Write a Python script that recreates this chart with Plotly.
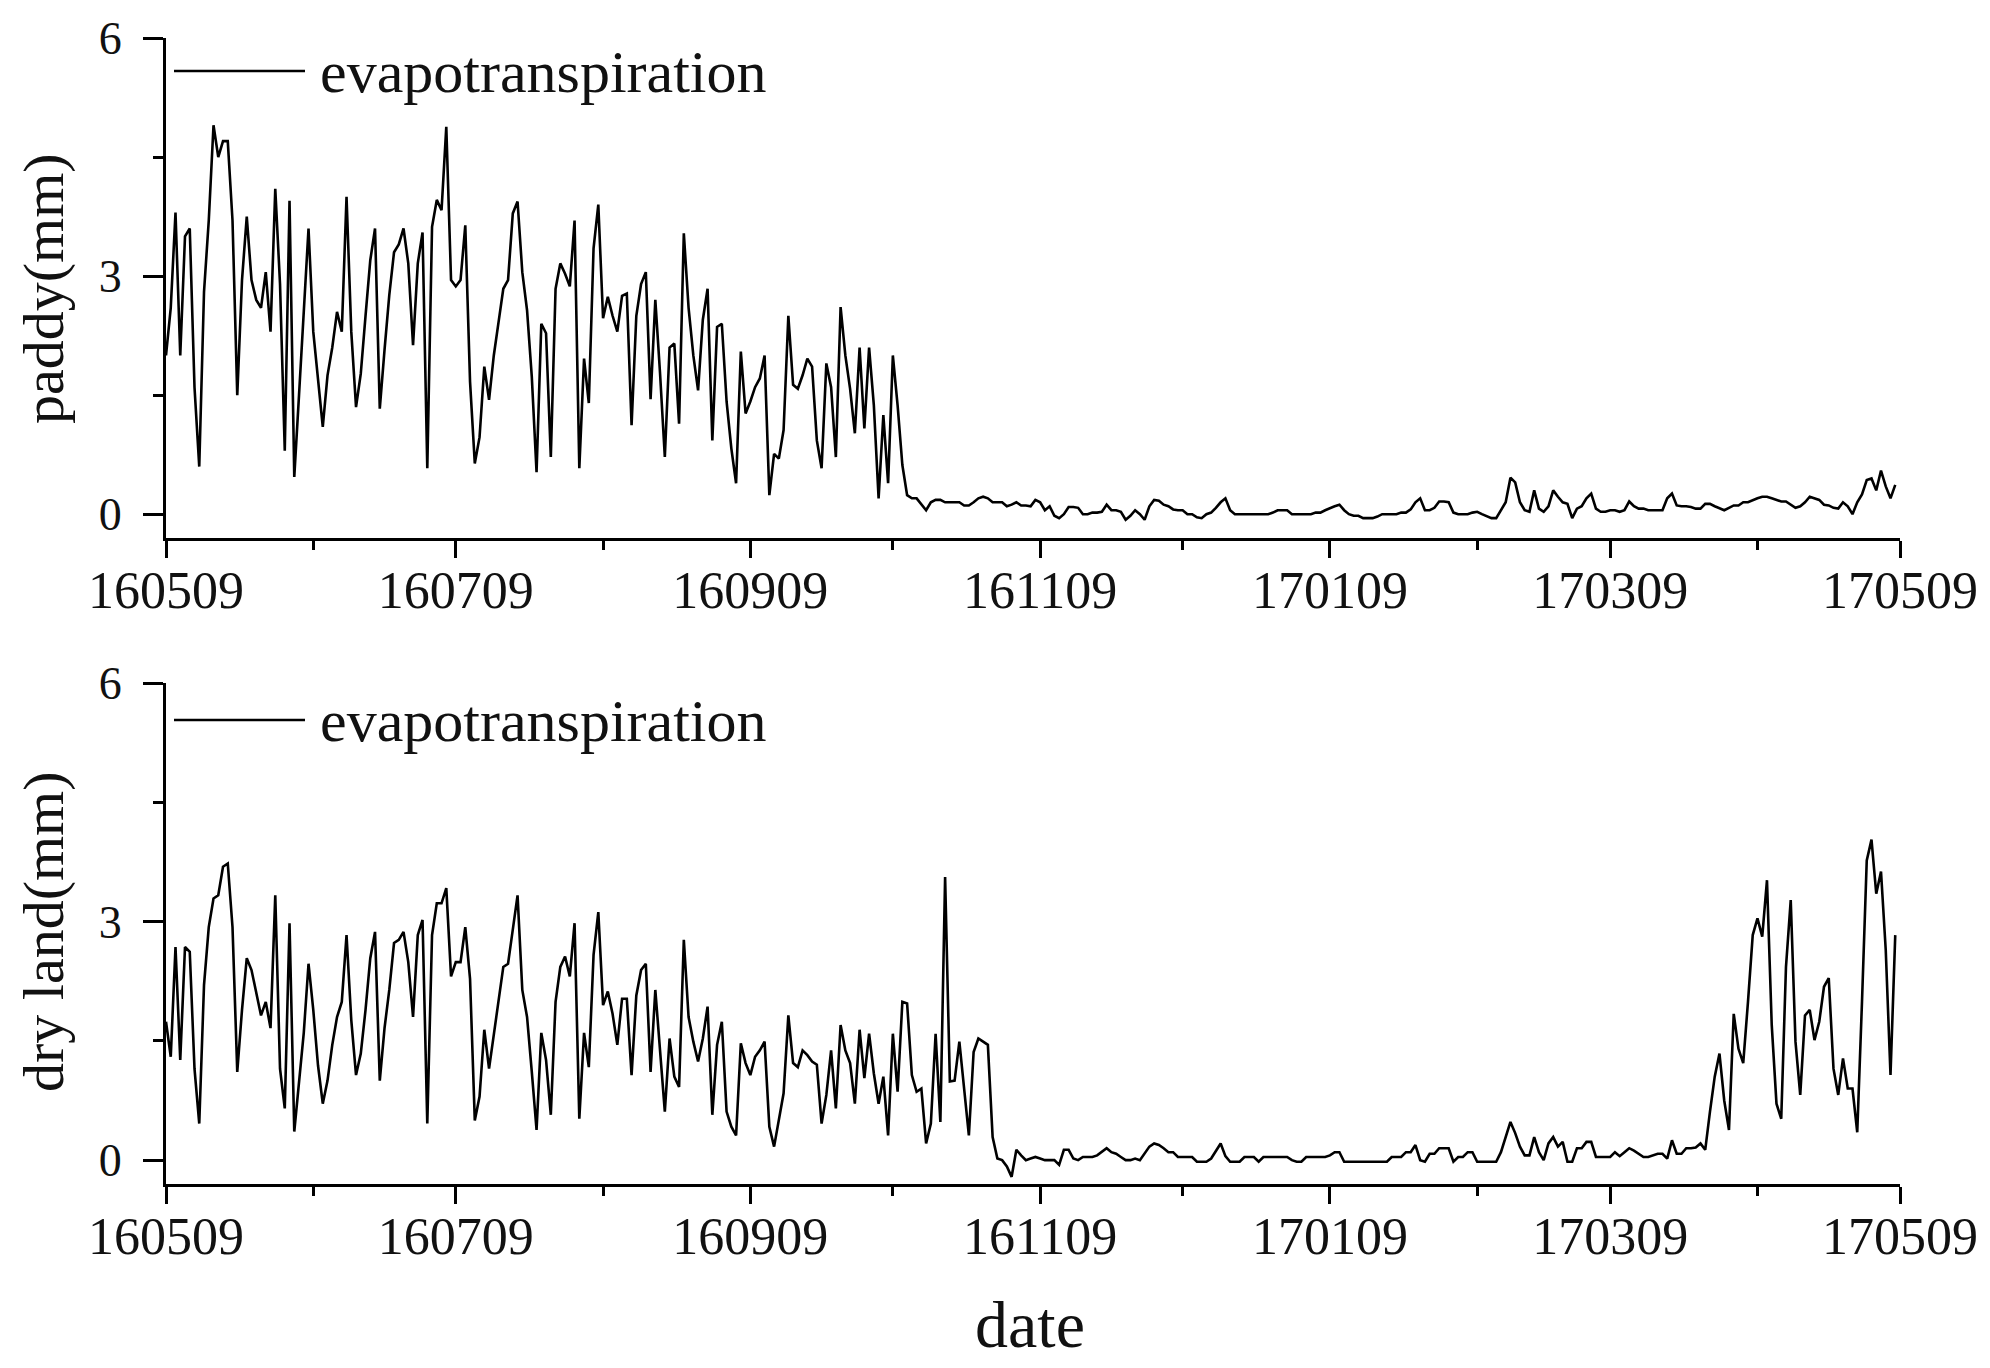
import pandas as pd
import plotly.graph_objects as go

# ---------------- data ----------------
start_date = "2016-05-09"
n_days = 365

paddy_et = [
    2.0, 2.6, 3.8, 2.0, 3.5, 3.6, 1.6, 0.6, 2.8, 3.7,
    4.9, 4.5, 4.7, 4.7, 3.7, 1.5, 2.95, 3.75, 2.95, 2.7,
    2.6, 3.05, 2.3, 4.1, 2.9, 0.8, 3.95, 0.47, 1.5, 2.5,
    3.6, 2.3, 1.67, 1.1, 1.75, 2.1, 2.55, 2.3, 4.0, 2.3,
    1.35, 1.77, 2.5, 3.2, 3.6, 1.33, 2.07, 2.76, 3.3, 3.4,
    3.6, 3.16, 2.13, 3.16, 3.55, 0.58, 3.62, 3.96, 3.83, 4.88,
    2.95, 2.87, 2.95, 3.64, 1.67, 0.64, 0.97, 1.86, 1.44, 2.0,
    2.42, 2.84, 2.95, 3.79, 3.94, 3.05, 2.57, 1.73, 0.53, 2.4,
    2.28, 0.72, 2.84, 3.16, 3.03, 2.87, 3.7, 0.58, 1.96, 1.4,
    3.35, 3.9, 2.47, 2.74,
    2.5, 2.3, 2.75, 2.78, 1.12, 2.5, 2.9, 3.05, 1.45, 2.7,
    1.77, 0.72, 2.1, 2.15, 1.14, 3.54, 2.6, 2.0, 1.56, 2.45,
    2.84, 0.93, 2.36, 2.4, 1.42, 0.83, 0.39, 2.05, 1.27, 1.42,
    1.6, 1.71, 2.0, 0.24, 0.76, 0.7, 1.06, 2.5, 1.63, 1.58,
    1.75, 1.96, 1.86, 0.93, 0.58, 1.9, 1.6, 0.72, 2.61, 2.0,
    1.58, 1.02, 2.1, 1.08, 2.1, 1.37, 0.2, 1.25, 0.39, 2.0,
    1.37, 0.62,
    0.24, 0.2, 0.2, 0.12, 0.05, 0.15, 0.18, 0.18, 0.15, 0.15,
    0.15, 0.15, 0.11, 0.11, 0.15, 0.2, 0.22, 0.2, 0.15, 0.15,
    0.15, 0.1, 0.12, 0.15, 0.11, 0.11, 0.1, 0.18,
    0.15, 0.05, 0.1, -0.02, -0.05, 0.0, 0.09, 0.09, 0.08, 0.0,
    0.0, 0.02, 0.02, 0.03, 0.12, 0.05, 0.05, 0.03, -0.07, -0.02,
    0.05, 0.0, -0.07, 0.1, 0.18, 0.17, 0.12, 0.1, 0.06, 0.05,
    0.05, 0.0, 0.0, -0.04, -0.05, 0.0, 0.02, 0.08, 0.15, 0.2,
    0.05, 0.0, 0.0, 0.0, 0.0, 0.0, 0.0, 0.0, 0.0, 0.02,
    0.05, 0.05, 0.05, 0.0, 0.0, 0.0, 0.0, 0.0, 0.02, 0.02,
    0.05, 0.08, 0.1, 0.12, 0.05, 0.0, -0.02, -0.02, -0.05, -0.05,
    -0.05, -0.03, 0.0, 0.0, 0.0, 0.0, 0.02, 0.02, 0.06, 0.15,
    0.2, 0.05, 0.05, 0.08, 0.16, 0.16, 0.15, 0.02, 0.0, 0.0,
    0.0, 0.02, 0.03, 0.0, -0.02, -0.05, -0.05, 0.05, 0.15, 0.46,
    0.4, 0.15, 0.05, 0.03, 0.3, 0.07, 0.03, 0.1, 0.3, 0.22,
    0.15, 0.13, -0.05, 0.07, 0.1, 0.2, 0.26, 0.07, 0.03, 0.03,
    0.05, 0.05, 0.03, 0.05, 0.16, 0.1, 0.07, 0.07, 0.05, 0.05,
    0.05, 0.05, 0.2, 0.26, 0.11, 0.1, 0.1, 0.09, 0.07, 0.07,
    0.13, 0.13, 0.1, 0.07, 0.05, 0.08, 0.11, 0.11, 0.15, 0.15,
    0.18, 0.2, 0.22, 0.22, 0.2, 0.18, 0.16, 0.16, 0.12, 0.08,
    0.1, 0.15, 0.22, 0.2, 0.18, 0.12, 0.11, 0.08, 0.07, 0.15,
    0.1, 0.0, 0.15, 0.25, 0.43, 0.45, 0.3, 0.55, 0.35, 0.2,
    0.37,
]

dryland_et = [
    1.74, 1.3, 2.68, 1.26, 2.68, 2.62, 1.15, 0.46, 2.2, 2.93,
    3.29, 3.33, 3.69, 3.73, 2.93, 1.11, 1.89, 2.54, 2.39, 2.1,
    1.82, 1.99, 1.66, 3.33, 1.15, 0.65, 2.98, 0.36, 0.94, 1.6,
    2.47, 1.89, 1.19, 0.71, 1.0, 1.45, 1.8, 1.99, 2.83, 1.76,
    1.07, 1.34, 1.89, 2.54, 2.87, 1.0, 1.66, 2.14, 2.73, 2.77,
    2.87, 2.49, 1.8, 2.83, 3.02, 0.46, 2.83, 3.23, 3.23, 3.42,
    2.31, 2.49, 2.49, 2.93, 2.28, 0.5, 0.8, 1.64, 1.15, 1.57,
    1.99, 2.43, 2.47, 2.87, 3.33, 2.14, 1.8, 1.11, 0.38, 1.6,
    1.26, 0.57, 1.99, 2.43, 2.56, 2.31, 2.98, 0.52, 1.6, 1.17,
    2.58, 3.12, 1.95, 2.12,
    1.84, 1.45, 2.03, 2.03, 1.07, 2.07, 2.39, 2.47, 1.11, 2.14,
    1.4, 0.61, 1.53, 1.05, 0.92, 2.77, 1.8, 1.49, 1.24, 1.53,
    1.93, 0.57, 1.45, 1.74, 0.61, 0.42, 0.31, 1.47, 1.22, 1.07,
    1.3, 1.38, 1.49, 0.42, 0.17, 0.52, 0.84, 1.82, 1.22, 1.17,
    1.38, 1.32, 1.24, 1.2, 0.46, 0.82, 1.38, 0.65, 1.7, 1.38,
    1.22, 0.71, 1.64, 1.03, 1.59, 1.09, 0.71, 1.05, 0.31, 1.59,
    0.86, 1.99, 1.97, 1.07, 0.86, 0.9, 0.21, 0.46, 1.59, 0.48,
    3.56, 0.99, 1.0, 1.49, 0.86, 0.31, 1.36, 1.53, 1.49, 1.45,
    0.29, 0.02, 0.0, -0.08, -0.21, 0.13, 0.06, 0.0, 0.02, 0.04,
    0.02, 0.0, 0.0, 0.0, -0.06, 0.13, 0.13, 0.02, 0.0, 0.04,
    0.04, 0.04, 0.06, 0.1, 0.15, 0.1, 0.08, 0.04, 0.0, 0.0,
    0.02, 0.0, 0.08, 0.17, 0.21, 0.19, 0.15, 0.1, 0.1, 0.04,
    0.04, 0.04, 0.04, -0.02, -0.02, -0.02, 0.02, 0.12, 0.21, 0.05,
    -0.02, -0.02, -0.02, 0.04, 0.04, 0.04, -0.02, 0.04, 0.04, 0.04,
    0.04, 0.04, 0.04, 0.0, -0.02, -0.02, 0.04, 0.04, 0.04, 0.04,
    0.04, 0.06, 0.1, 0.1, -0.02, -0.02, -0.02, -0.02, -0.02, -0.02,
    -0.02, -0.02, -0.02, -0.02, 0.04, 0.04, 0.04, 0.1, 0.1, 0.19,
    0.0, -0.02, 0.08, 0.08, 0.15, 0.15, 0.15, -0.02, 0.04, 0.04,
    0.1, 0.1, -0.02, -0.02, -0.02, -0.02, -0.02, 0.1, 0.29, 0.48,
    0.34, 0.17, 0.06, 0.06, 0.29, 0.1, 0.0, 0.21, 0.29, 0.17,
    0.23, -0.02, -0.02, 0.15, 0.15, 0.23, 0.23, 0.04,
    0.04, 0.04, 0.04, 0.1, 0.05, 0.1, 0.15, 0.12, 0.08, 0.04,
    0.04, 0.06, 0.08, 0.08, 0.02, 0.25, 0.08, 0.08, 0.15, 0.15,
    0.16, 0.21, 0.13, 0.61, 1.05, 1.34, 0.75, 0.38, 1.84, 1.4,
    1.22, 1.99, 2.83, 3.04, 2.81, 3.52, 1.7, 0.71, 0.52, 2.43,
    3.27, 1.49, 0.82, 1.82, 1.89, 1.51, 1.74, 2.18, 2.29, 1.15,
    0.82, 1.28, 0.9, 0.9, 0.35, 1.99, 3.77, 4.03, 3.35, 3.63,
    2.64, 1.07, 2.83,
]

x_tick_dates = ["2016-05-09", "2016-07-09", "2016-09-09", "2016-11-09",
                "2017-01-09", "2017-03-09", "2017-05-09"]
x_tick_labels = ["160509", "160709", "160909", "161109",
                 "170109", "170309", "170509"]
x_minor_dates = ["2016-06-09", "2016-08-09", "2016-10-09",
                 "2016-12-09", "2017-02-09", "2017-04-09"]
y_tick_vals = [0, 3, 6]
y_minor_vals = [1.5, 4.5]

series_name = "evapotranspiration"
y_titles = ["paddy(mm)", "dry land(mm)"]
x_title = "date"

dates = pd.date_range(start_date, periods=n_days, freq="D")

# ---------------- figure ----------------
FONT = "Liberation Serif"
OFF = 8                      # page body margin in which the figure sits
PAGE_W, PAGE_H = 1990, 1368
# plot area wanted in page pixels
PL, PR, PT, PB = 166, 1900, 38, 1184

W, H = PAGE_W - 2 * OFF, PAGE_H - 2 * OFF
ML = PL - OFF
MT = PT - OFF
MR = W - (PR - OFF)
MB = H - (PB - OFF)


def py(page_y):
    return (PB - page_y) / (PB - PT)


def px_(page_x):
    return (page_x - PL) / (PR - PL)


fig = go.Figure()
fig.add_trace(go.Scatter(x=dates, y=paddy_et, mode="lines", name=series_name,
                         line=dict(color="black", width=2.6),
                         xaxis="x", yaxis="y", showlegend=False))
fig.add_trace(go.Scatter(x=dates, y=dryland_et, mode="lines", name=series_name,
                         line=dict(color="black", width=2.6),
                         xaxis="x2", yaxis="y2", showlegend=False))

xcommon = dict(
    type="date", range=[x_tick_dates[0], x_tick_dates[-1]],
    tickmode="array", tickvals=x_tick_dates, ticktext=x_tick_labels,
    showline=True, linecolor="black", linewidth=3,
    ticks="outside", ticklen=17, tickwidth=3, tickcolor="black",
    minor=dict(tickmode="array", tickvals=x_minor_dates, ticks="outside",
               ticklen=9, tickwidth=3, tickcolor="black", showgrid=False),
    showgrid=False, zeroline=False, automargin=False,
    tickfont=dict(family=FONT, size=52, color="#111111"), ticklabelstandoff=-12,
)
ycommon = dict(
    range=[-0.3, 6], tickmode="array", tickvals=y_tick_vals,
    showline=True, linecolor="black", linewidth=3,
    ticks="outside", ticklen=20, tickwidth=3, tickcolor="black",
    minor=dict(tickmode="array", tickvals=y_minor_vals, ticks="outside",
               ticklen=10, tickwidth=3, tickcolor="black", showgrid=False),
    showgrid=False, zeroline=False, automargin=False,
    tickfont=dict(family=FONT, size=46, color="#111111"), ticklabelstandoff=12,
)

top_dom = [py(538), 1.0]
bot_dom = [0.0, py(683)]

fig.update_layout(
    width=W, height=H,
    margin=dict(l=ML, r=MR, t=MT, b=MB),
    paper_bgcolor="white", plot_bgcolor="white",
    xaxis=dict(domain=[0, 1], anchor="y", **xcommon),
    yaxis=dict(domain=top_dom, anchor="x", **ycommon),
    xaxis2=dict(domain=[0, 1], anchor="y2", **xcommon),
    yaxis2=dict(domain=bot_dom, anchor="x2", **ycommon),
    showlegend=False,
)

# legend-like keys (line + text) in each panel
for ly in (71, 720):
    fig.add_shape(type="line", xref="paper", yref="paper",
                  x0=px_(174), x1=px_(305), y0=py(ly), y1=py(ly),
                  line=dict(color="black", width=2.6))
    fig.add_annotation(text=series_name, xref="paper", yref="paper",
                       x=px_(318), y=py(ly + 1), xanchor="left", yanchor="middle",
                       showarrow=False,
                       font=dict(family=FONT, size=60, color="#111111"))

# axis titles
for title, cy in zip(y_titles, (288, 931)):
    fig.add_annotation(text=title, xref="paper", yref="paper",
                       x=px_(43), y=py(cy), xanchor="center", yanchor="middle",
                       textangle=-90, showarrow=False,
                       font=dict(family=FONT, size=58, color="#111111"))

fig.add_annotation(text=x_title, xref="paper", yref="paper",
                   x=px_(1030), y=py(1324), xanchor="center", yanchor="middle",
                   showarrow=False, font=dict(family=FONT, size=66, color="#111111"))

fig.write_html("out.html")
